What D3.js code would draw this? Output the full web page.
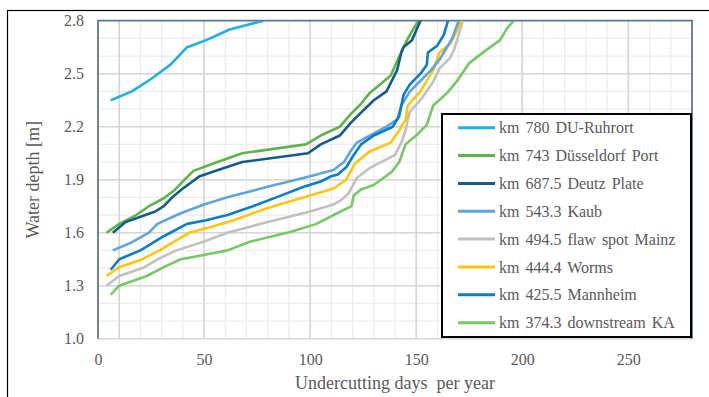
<!DOCTYPE html>
<html><head><meta charset="utf-8">
<script src="https://cdn.jsdelivr.net/npm/d3@7"></script>
<style>
body{margin:0;background:#fff}
svg{display:block}
text{font-family:"Liberation Serif","Times New Roman",serif;fill:#595959}
</style></head>
<body><svg width="709" height="397"></svg>
<script>
// ---- data ----
const seriesNames = ["km 780 DU-Ruhrort","km 743 Düsseldorf Port","km 687.5 Deutz Plate","km 543.3 Kaub","km 494.5 flaw spot Mainz","km 444.4 Worms","km 425.5 Mannheim","km 374.3 downstream KA"];
const xTicks = [0,50,100,150,200,250];
const yTicks = [1.0,1.3,1.6,1.9,2.2,2.5,2.8];

const ruhrort = [[6,2.35],[16,2.40],[25,2.47],[34,2.55],[38,2.60],[42,2.65],[51,2.69],[62,2.75],[78,2.80]];
const duesseldorf = [[4,1.60],[10,1.65],[18,1.70],[24,1.75],[31,1.795],[36,1.84],[40,1.89],[45,1.95],[54,1.99],[68,2.05],[98,2.10],[105,2.15],[114,2.20],[119,2.27],[124,2.33],[128,2.39],[138,2.49],[141,2.57],[144,2.65],[147,2.72],[151,2.80]];
const deutz = [[7,1.60],[13,1.66],[20,1.69],[27,1.72],[31,1.75],[35,1.80],[40,1.85],[48,1.92],[58,1.96],[68,2.00],[99,2.05],[105,2.10],[114,2.15],[119,2.22],[124,2.28],[130,2.35],[136,2.40],[141,2.52],[143,2.62],[144,2.65],[148,2.69],[152,2.80]];
const kaub = [[7,1.50],[15,1.54],[24,1.60],[28,1.65],[39,1.71],[50,1.76],[61,1.80],[80,1.86],[100,1.92],[111,1.955],[116,2.00],[119,2.06],[122,2.11],[128,2.15],[136,2.20],[141,2.24],[143,2.32],[147,2.40],[152,2.46],[157,2.52],[161,2.58],[164,2.64],[167,2.70],[170,2.80]];
const mainz = [[4,1.30],[10,1.355],[21,1.40],[29,1.455],[37,1.50],[50,1.55],[61,1.60],[80,1.66],[100,1.72],[111,1.76],[114,1.78],[118,1.82],[122,1.91],[128,1.965],[140,2.04],[143,2.11],[145,2.18],[146,2.24],[147,2.285],[152,2.35],[158,2.455],[161,2.53],[166,2.59],[168,2.64],[170,2.72],[172,2.80]];
const worms = [[4,1.355],[10,1.405],[20,1.445],[29,1.50],[43,1.60],[54,1.635],[64,1.67],[80,1.74],[100,1.81],[111,1.85],[117,1.90],[121,1.99],[128,2.06],[138,2.11],[142,2.18],[145,2.24],[146,2.32],[152,2.40],[158,2.52],[161,2.62],[166,2.67],[169,2.74],[171,2.80]];
const mannheim = [[6,1.39],[10,1.45],[20,1.50],[31,1.58],[42,1.65],[51,1.67],[61,1.70],[73,1.75],[84,1.80],[97,1.86],[105,1.89],[110,1.92],[113,1.93],[117,1.97],[120,2.03],[124,2.10],[130,2.15],[139,2.20],[142,2.26],[144,2.38],[147,2.44],[152,2.50],[155,2.55],[155.5,2.62],[160,2.66],[163,2.72],[165,2.80]];
const downstreamKA = [[6,1.25],[10,1.30],[23,1.355],[31,1.405],[39,1.45],[48,1.47],[61,1.50],[72,1.55],[91,1.605],[103,1.65],[111,1.70],[119.5,1.75],[120.5,1.81],[124,1.845],[130,1.87],[138.5,1.945],[142,2.00],[145,2.10],[150,2.15],[155,2.21],[158,2.32],[164.5,2.39],[169,2.455],[175,2.56],[182,2.625],[189.5,2.69],[193,2.76],[196,2.80]];

const seriesData = [ruhrort,duesseldorf,deutz,kaub,mainz,worms,mannheim,downstreamKA];
const seriesColors = ["#1cb0e8","#5cb44a","#145a8c","#5fa5dd","#c0c0c0","#ffc50a","#0a7ccc","#76c865"];
// draw order (back to front)
const drawOrder = [7,4,5,3,6,1,2,0];

// ---- chart ----
const svg = d3.select("svg");
const L=98, R=692, T=20.7, B=338.7;
const x = d3.scaleLinear().domain([0,280]).range([L,R]);
const y = d3.scaleLinear().domain([1.0,2.8]).range([B,T]);

// outer frame
svg.append("rect").attr("x",7.5).attr("y",10.5).attr("width",720).attr("height",400)
  .attr("fill","none").attr("stroke","#000").attr("stroke-width",1.2);

const grid = svg.append("g");
// minor grid
d3.range(10,280,10).forEach(v=>{
  grid.append("line").attr("x1",x(v)).attr("x2",x(v)).attr("y1",T).attr("y2",B)
    .attr("stroke","#ececec").attr("stroke-width",1.2);
});
d3.range(11,28,1).map(v=>v/10).forEach(v=>{
  grid.append("line").attr("x1",L).attr("x2",R).attr("y1",y(v)).attr("y2",y(v))
    .attr("stroke","#ececec").attr("stroke-width",1.2);
});
// major grid
[10,50,100,150,200,250].forEach(v=>{
  grid.append("line").attr("x1",x(v)).attr("x2",x(v)).attr("y1",T).attr("y2",B)
    .attr("stroke","#d6d6d6").attr("stroke-width",1.6);
});
yTicks.slice(1,-1).concat([1.0]).forEach(v=>{
  grid.append("line").attr("x1",L).attr("x2",R).attr("y1",y(v)).attr("y2",y(v))
    .attr("stroke","#d6d6d6").attr("stroke-width",1.6);
});

// plot border
svg.append("path").attr("d",`M${L},${B}V${T}H${R}V${B}`)
  .attr("fill","none").attr("stroke","#5b7893").attr("stroke-width",1.8);

// clip
svg.append("clipPath").attr("id","clip").append("rect").attr("x",L).attr("y",T).attr("width",R-L).attr("height",B-T);

const line = d3.line().x(d=>x(d[0])).y(d=>y(d[1]));
const lines = svg.append("g").attr("clip-path","url(#clip)");
drawOrder.forEach(i=>{
  lines.append("path").datum(seriesData[i]).attr("d",line)
    .attr("fill","none").attr("stroke",seriesColors[i]).attr("stroke-width",2.6)
    .attr("stroke-linejoin","round");
});

// axes
const ya = svg.append("g").attr("transform",`translate(${L},0)`)
  .call(d3.axisLeft(y).tickValues(yTicks).tickSize(0).tickPadding(14).tickFormat(d3.format(".1f")));
ya.select(".domain").remove();
ya.selectAll("text").style("font-family",'"Liberation Serif",serif').style("font-size","16px").attr("fill","#595959");

const xa = svg.append("g").attr("transform",`translate(0,${B})`)
  .call(d3.axisBottom(x).tickValues(xTicks).tickSize(0).tickPadding(15).tickFormat(d3.format("d")));
xa.select(".domain").remove();
xa.selectAll("text").style("font-family",'"Liberation Serif",serif').style("font-size","16px").attr("fill","#595959");

// titles
svg.append("text").attr("x",(L+R)/2).attr("y",389).attr("text-anchor","middle")
  .style("font-size","18px").style("white-space","pre").text("Undercutting days  per year");
svg.append("text").attr("transform",`translate(39,${(T+B)/2}) rotate(-90)`).attr("text-anchor","middle")
  .style("font-size","18px").text("Water depth [m]");

// legend
const lg = svg.append("g");
lg.append("rect").attr("x",442).attr("y",114).attr("width",249).attr("height",223)
  .attr("fill","#fff").attr("stroke","#000").attr("stroke-width",2);
seriesNames.forEach((n,i)=>{
  const cy = 127.7 + i*27.85;
  lg.append("line").attr("x1",458).attr("x2",495).attr("y1",cy).attr("y2",cy)
    .attr("stroke",seriesColors[i]).attr("stroke-width",3);
  lg.append("text").attr("x",499).attr("y",cy).attr("dy","0.35em")
    .style("font-size","16px").style("word-spacing","2px").text(n);
});
</script></body></html>
